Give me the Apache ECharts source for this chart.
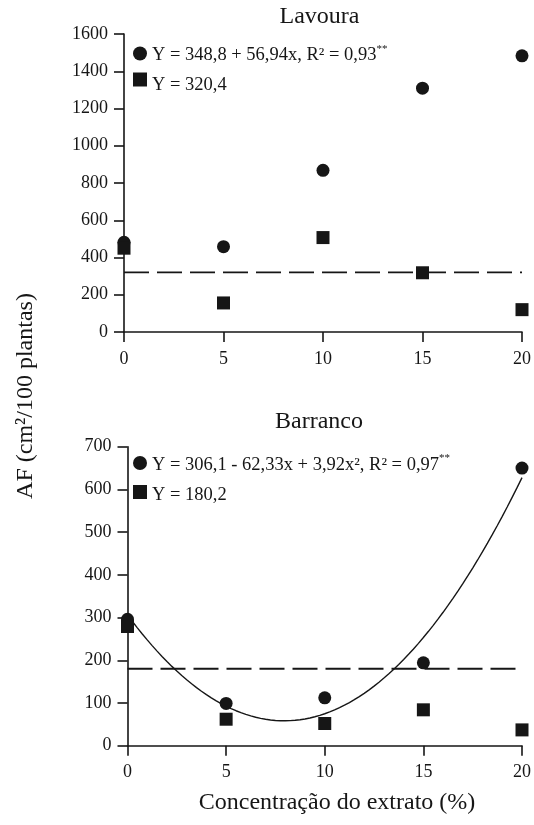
<!DOCTYPE html>
<html>
<head>
<meta charset="utf-8">
<script src="https://cdn.jsdelivr.net/npm/echarts@6/dist/echarts.min.js"></script>
<style>
  html, body { margin: 0; padding: 0; background: #fff; }
  #chart { width: 534px; height: 825px; }
</style>
</head>
<body>
<div id="chart"></div>
<script>
// Extract concentrations (%) on the x axis
const concentrations = [0, 5, 10, 15, 20];

// Lavoura: leaf area of the two groups
const lavouraCircles = [482, 458, 868, 1309, 1483];
const lavouraSquares = [450, 156, 507, 318, 120];
const lavouraMean = 320.4;

// Barranco: leaf area of the two groups
const barrancoCircles = [296, 99, 112, 194, 650];
const barrancoSquares = [279, 62, 52, 84, 37];
const barrancoMean = 180.2;
// quadratic fit coefficients: a + b*x + c*x^2
const barrancoFit = [306.1, -62.33, 3.92];

// Axis ticks
const xTicks = [0, 5, 10, 15, 20];
const lavouraTicks = [0, 200, 400, 600, 800, 1000, 1200, 1400, 1600];
const barrancoTicks = [0, 100, 200, 300, 400, 500, 600, 700];

const FONT = 'Liberation Serif';
const INK = '#161616';

const br = v => String(v).replace('.', ',');

const pairs = ys => concentrations.map((x, i) => [x, ys[i]]);
const flat = (v) => [[xTicks[0], v], [xTicks[xTicks.length - 1], v]];

// fitted curve from the stated coefficients
const fitCurve = [];
for (let x = xTicks[0]; x <= xTicks[xTicks.length - 1] + 1e-9; x += 0.25) {
  fitCurve.push([x, barrancoFit[0] + barrancoFit[1] * x + barrancoFit[2] * x * x]);
}

const legendText = {
  lavC: '{eq|Y = 348,8 + 56,94x, R² = 0,93}{sup|**}',
  lavS: '{low|Y = ' + br(lavouraMean) + '}',
  barC: '{eq|Y = ' + br(barrancoFit[0]) + ' - ' + br(Math.abs(barrancoFit[1])) + 'x + ' +
        br(barrancoFit[2]) + 'x², R² = 0,97}{sup|**}',
  barS: '{lowB|Y = ' + br(barrancoMean) + '}'
};

const axisCommon = {
  axisLine: { show: true, onZero: false, lineStyle: { color: INK, width: 1.6 } },
  axisTick: { show: true, length: 10, lineStyle: { color: INK, width: 1.6 } },
  splitLine: { show: false },
  axisLabel: { fontFamily: FONT, fontSize: 18, color: INK, formatter: v => String(v) }
};

function xAxisFor(gridIndex) {
  return Object.assign({}, axisCommon, {
    type: 'value', gridIndex, min: xTicks[0], max: xTicks[xTicks.length - 1],
    interval: xTicks[1] - xTicks[0],
    axisLabel: Object.assign({}, axisCommon.axisLabel, { margin: 18 })
  });
}
function yAxisFor(gridIndex, ticks) {
  return Object.assign({}, axisCommon, {
    type: 'value', gridIndex, min: ticks[0], max: ticks[ticks.length - 1],
    interval: ticks[1] - ticks[0],
    axisLabel: Object.assign({}, axisCommon.axisLabel, { margin: 16 })
  });
}

const textBase = { fontFamily: FONT, fontSize: 18.5, color: INK };
const legendCommon = {
  orient: 'vertical',
  selectedMode: false,
  padding: 0,
  itemWidth: 14,
  itemHeight: 14,
  formatter: name => legendText[name],
  textStyle: Object.assign({}, textBase, {
    lineHeight: 20,
    rich: {
      eq: Object.assign({}, textBase, { lineHeight: 20, padding: [4, 0, 0, 0] }),
      low: Object.assign({}, textBase, { lineHeight: 20, padding: [12, 0, 0, 0] }),
      lowB: Object.assign({}, textBase, { lineHeight: 20, padding: [6, 0, 0, 0] }),
      sup: { fontFamily: FONT, fontSize: 11, color: INK, verticalAlign: 'top', lineHeight: 10 }
    }
  })
};

const markerStyle = { color: INK, opacity: 1 };

const chart = echarts.init(document.getElementById('chart'), null, { renderer: 'canvas' });

chart.setOption({
  backgroundColor: '#fff',
  animation: false,
  grid: [
    { left: 124, right: 11, top: 34, height: 298 },
    { left: 127.5, right: 7, top: 446.7, height: 299 }
  ],
  xAxis: [xAxisFor(0), xAxisFor(1)],
  yAxis: [yAxisFor(0, lavouraTicks), yAxisFor(1, barrancoTicks)],
  legend: [
    Object.assign({}, legendCommon, {
      left: 133, top: 42, itemGap: -1,
      data: [{ name: 'lavC', icon: 'circle' }, { name: 'lavS', icon: 'rect' }]
    }),
    Object.assign({}, legendCommon, {
      left: 133, top: 451.5, itemGap: 5,
      data: [{ name: 'barC', icon: 'circle' }, { name: 'barS', icon: 'rect' }]
    })
  ],
  graphic: [
    { type: 'text', x: 319.5, y: 17, style: { text: 'Lavoura', fontFamily: FONT, fontSize: 24, fill: INK, align: 'center', verticalAlign: 'middle' } },
    { type: 'text', x: 319, y: 421.7, style: { text: 'Barranco', fontFamily: FONT, fontSize: 24, fill: INK, align: 'center', verticalAlign: 'middle' } },
    { type: 'text', x: 337, y: 803, style: { text: 'Concentração do extrato (%)', fontFamily: FONT, fontSize: 24, fill: INK, align: 'center', verticalAlign: 'middle' } },
    { type: 'text', x: 26, y: 396, rotation: Math.PI / 2, style: { text: 'AF (cm²/100 plantas)', fontFamily: FONT, fontSize: 24, fill: INK, align: 'center', verticalAlign: 'middle' } }
  ],
  series: [
    { name: 'lavMean', type: 'line', xAxisIndex: 0, yAxisIndex: 0, data: flat(lavouraMean), symbol: 'none', silent: true,
      lineStyle: { color: INK, width: 1.8, type: [25, 8] }, z: 1 },
    { name: 'lavC', type: 'scatter', xAxisIndex: 0, yAxisIndex: 0, data: pairs(lavouraCircles), symbol: 'circle', symbolSize: 13,
      itemStyle: markerStyle, z: 3 },
    { name: 'lavS', type: 'scatter', xAxisIndex: 0, yAxisIndex: 0, data: pairs(lavouraSquares), symbol: 'rect', symbolSize: 13,
      itemStyle: markerStyle, z: 3 },

    { name: 'barMean', type: 'line', xAxisIndex: 1, yAxisIndex: 1, data: flat(barrancoMean), symbol: 'none', silent: true,
      lineStyle: { color: INK, width: 1.8, type: [25, 8] }, z: 1 },
    { name: 'barFit', type: 'line', xAxisIndex: 1, yAxisIndex: 1, data: fitCurve, symbol: 'none', silent: true, smooth: false,
      lineStyle: { color: INK, width: 1.4 }, z: 2 },
    { name: 'barC', type: 'scatter', xAxisIndex: 1, yAxisIndex: 1, data: pairs(barrancoCircles), symbol: 'circle', symbolSize: 13,
      itemStyle: markerStyle, z: 3 },
    { name: 'barS', type: 'scatter', xAxisIndex: 1, yAxisIndex: 1, data: pairs(barrancoSquares), symbol: 'rect', symbolSize: 13,
      itemStyle: markerStyle, z: 3 }
  ]
});
</script>
</body>
</html>
